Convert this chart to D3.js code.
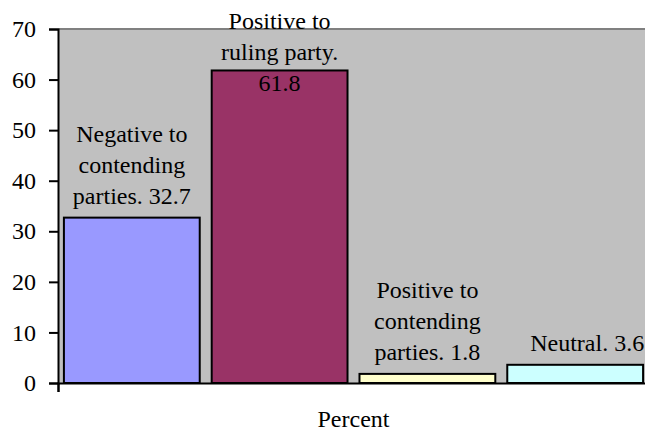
<!DOCTYPE html>
<html>
<head>
<meta charset="utf-8">
<script src="https://cdn.jsdelivr.net/npm/d3@7"></script>
<style>
  body { margin: 0; background: #fff; }
  text { font-family: "Liberation Serif", "Times New Roman", serif; fill: #000; }
</style>
</head>
<body>
<div id="chart"></div>
<script>
// chart data
var category = "Percent";
var seriesNames = [
  ["Negative to", "contending", "parties."],
  ["Positive to", "ruling party."],
  ["Positive to", "contending", "parties."],
  ["Neutral."]
];
var values = [32.7, 61.8, 1.8, 3.6];
var barColors = ["#9999FF", "#993366", "#FFFFCC", "#CCFFFF"];
var yTicks = [0, 10, 20, 30, 40, 50, 60, 70];

var svgWidth = 645;
var svgHeight = 433;

var margin = { top: 29, right: -4, bottom: 50, left: 58 };
var width = svgWidth - margin.left - margin.right;
var height = svgHeight - margin.top - margin.bottom;

var svg = d3.select("#chart")
  .append("svg")
  .attr("width", svgWidth)
  .attr("height", svgHeight);

var chartGroup = svg.append("g")
  .attr("transform", `translate(${margin.left}, ${margin.top})`);

// scales
var xScale = d3.scaleBand()
  .domain(d3.range(values.length))
  .range([0, width])
  .paddingInner(0.081)
  .paddingOuter(0.04);

var yScale = d3.scaleLinear()
  .domain([0, 70])
  .range([height, 0]);

// plot background
chartGroup.append("rect")
  .attr("x", 0)
  .attr("y", 0)
  .attr("width", width)
  .attr("height", height)
  .attr("fill", "#C0C0C0");

chartGroup.append("line")
  .attr("x1", 0)
  .attr("x2", width)
  .attr("y1", 0)
  .attr("y2", 0)
  .attr("stroke", "#808080")
  .attr("stroke-width", 2);

// bars
chartGroup.selectAll("rect.bar")
  .data(values)
  .enter()
  .append("rect")
  .attr("class", "bar")
  .attr("x", (d, i) => xScale(i))
  .attr("y", d => yScale(d))
  .attr("width", xScale.bandwidth())
  .attr("height", d => height - yScale(d))
  .attr("fill", (d, i) => barColors[i])
  .attr("stroke", "#000")
  .attr("stroke-width", 2);

// y axis
var leftAxis = d3.axisLeft(yScale)
  .tickValues(yTicks)
  .tickSize(9)
  .tickPadding(13);

var yAxis = chartGroup.append("g").call(leftAxis);
yAxis.attr("font-family", null);
yAxis.select(".domain").attr("stroke", "#000").attr("stroke-width", 2);
yAxis.selectAll(".tick line").attr("stroke", "#000").attr("stroke-width", 2);
yAxis.selectAll(".tick text")
  .style("font-family", "'Liberation Serif', serif")
  .attr("font-size", "24px")
  .attr("fill", "#000");

// x axis
var bottomAxis = d3.axisBottom(d3.scaleLinear().domain([0, 1]).range([0, width]))
  .tickValues([0, 1])
  .tickSize(9)
  .tickFormat("");

var xAxis = chartGroup.append("g")
  .attr("transform", `translate(0, ${height})`)
  .call(bottomAxis);
xAxis.select(".domain").attr("stroke", "#000").attr("stroke-width", 2);
xAxis.selectAll(".tick line").attr("stroke", "#000").attr("stroke-width", 2);

chartGroup.append("text")
  .attr("x", width / 2)
  .attr("y", height + 44)
  .attr("text-anchor", "middle")
  .style("font-family", "'Liberation Serif', serif")
  .attr("font-size", "24px")
  .text(category);

// data labels
var lineHeight = 31;
values.forEach(function(v, i) {
  var lines = seriesNames[i].slice();
  var last = lines[lines.length - 1] + " " + v;
  if (last.length <= 13) {
    lines[lines.length - 1] = last;
  } else {
    lines.push(String(v));
  }
  var lastBase = yScale(v) - 14;
  var firstBase = lastBase - (lines.length - 1) * lineHeight;
  if (firstBase < 0) {
    lastBase = lastBase - firstBase;
    firstBase = 0;
  }
  var cx = xScale(i) + xScale.bandwidth() / 2;
  if (i === values.length - 1) cx += 12;

  var label = chartGroup.append("text")
    .attr("text-anchor", "middle")
    .style("font-family", "'Liberation Serif', serif")
    .attr("font-size", "24px");

  lines.forEach(function(t, j) {
    label.append("tspan")
      .attr("x", cx)
      .attr("y", firstBase + j * lineHeight)
      .text(t);
  });
});
</script>
</body>
</html>
